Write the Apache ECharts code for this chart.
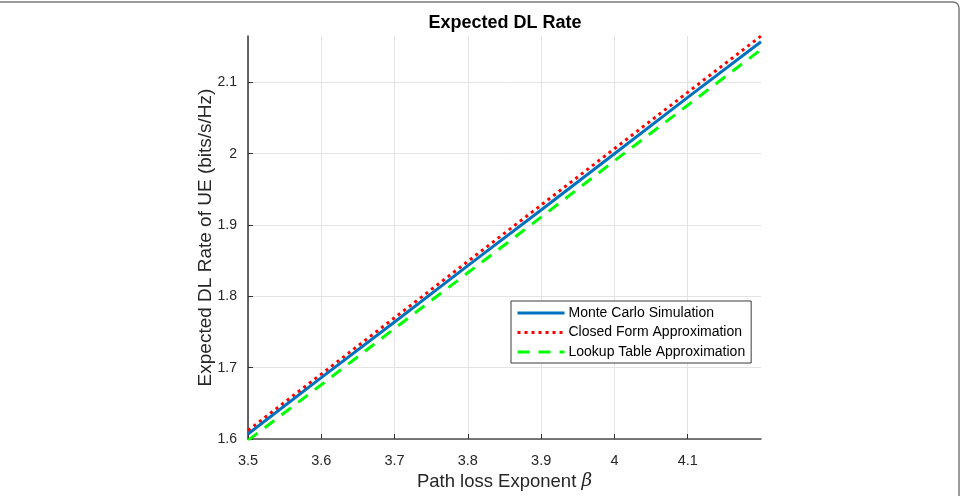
<!DOCTYPE html>
<html>
<head>
<meta charset="utf-8">
<script src="https://cdn.jsdelivr.net/npm/echarts@6/dist/echarts.min.js"></script>
<style>
html,body{margin:0;padding:0;background:#fff;}
#chart{width:962px;height:496px;}
</style>
</head>
<body>
<div id="chart"></div>
<script>
const xValues = [3.5, 3.6, 3.7, 3.8, 3.9, 4.0, 4.1, 4.2];
const monteCarlo = [1.607, 1.686, 1.764, 1.843, 1.921, 2.000, 2.079, 2.157];
const closedForm = [1.612, 1.691, 1.770, 1.849, 1.928, 2.007, 2.086, 2.165];
const lookupTable = [1.598, 1.676, 1.755, 1.833, 1.911, 1.990, 2.068, 2.146];
const seriesNames = ['Monte Carlo Simulation', 'Closed Form Approximation', 'Lookup Table Approximation'];
const xTickValues = [3.5, 3.6, 3.7, 3.8, 3.9, 4.0, 4.1];
const xTickLabels = ['3.5', '3.6', '3.7', '3.8', '3.9', '4', '4.1'];
const yTickValues = [1.6, 1.7, 1.8, 1.9, 2.0, 2.1];
const yTickLabels = ['1.6', '1.7', '1.8', '1.9', '2', '2.1'];

const pairs = (ys) => xValues.map((x, i) => [x, ys[i]]);
const font = 'Liberation Sans, Arial, Helvetica, sans-serif';
const gridColor = '#e3e3e3';
const clear = 'rgba(0,0,0,0)';

function labelFor(values, labels) {
  return (v) => {
    for (let i = 0; i < values.length; i++) {
      if (Math.abs(v - values[i]) < 1e-6) return labels[i];
    }
    return '';
  };
}

const chart = echarts.init(document.getElementById('chart'), null, {renderer: 'canvas'});
chart.setOption({
  animation: false,
  backgroundColor: '#fff',
  title: {
    text: 'Expected DL Rate',
    left: 500, top: 9, textAlign: 'center',
    textStyle: {fontFamily: font, fontSize: 18, fontWeight: 'bold', color: '#000'}
  },
  graphic: [{
    type: 'rect', silent: true,
    shape: {x: -10, y: 2, width: 969, height: 510, r: 6},
    style: {fill: 'none', stroke: '#7a7a7a', lineWidth: 1.5}
  }],
  grid: {left: 248, right: 201, top: 36, bottom: 55, containLabel: false},
  legend: {
    orient: 'vertical',
    left: 511, top: 301,
    itemWidth: 47, itemHeight: 14, itemGap: 5.5,
    padding: [5, 6, 4, 5],
    backgroundColor: '#fff',
    borderColor: '#3a3a3a', borderWidth: 1,
    itemStyle: {opacity: 0, borderWidth: 0},
    lineStyle: {width: 3},
    textStyle: {fontFamily: font, fontSize: 14, color: '#000', padding: [0, 0, 0, -1]},
    data: seriesNames
  },
  xAxis: {
    type: 'value', min: 3.5, max: 4.2, interval: 0.1,
    name: 'Path loss Exponent {b|β}',
    nameLocation: 'middle', nameGap: 33, nameMoveOverlap: false,
    nameTextStyle: {fontFamily: font, fontSize: 18.5, color: '#262626',
      rich: {b: {fontFamily: 'DejaVu Serif, serif', fontStyle: 'italic', fontSize: 18.5, color: '#262626'}}},
    axisLine: {show: true, onZero: false, lineStyle: {color: '#4d4d4d', width: 1.5}},
    axisTick: {show: true, inside: true, length: 5, customValues: xTickValues, lineStyle: {color: '#333'}},
    axisLabel: {
      fontFamily: font, fontSize: 14.5, color: '#262626', margin: 14,
      customValues: xTickValues,
      formatter: labelFor(xTickValues, xTickLabels)
    },
    splitLine: {show: true, lineStyle: {color: [gridColor, gridColor, gridColor, gridColor, gridColor, gridColor, gridColor, clear], width: 1}}
  },
  yAxis: {
    type: 'value', min: 1.6, max: 2.165, interval: 0.1,
    name: 'Expected DL Rate of UE (bits/s/Hz)',
    nameLocation: 'middle', nameGap: 33, nameMoveOverlap: false,
    nameTextStyle: {fontFamily: font, fontSize: 19, color: '#262626'},
    axisLine: {show: true, onZero: false, lineStyle: {color: '#333', width: 1.5}},
    axisTick: {show: true, inside: true, length: 5, customValues: yTickValues, lineStyle: {color: '#333'}},
    axisLabel: {
      fontFamily: font, fontSize: 14, color: '#262626', margin: 11,
      customValues: yTickValues,
      formatter: labelFor(yTickValues, yTickLabels)
    },
    splitLine: {show: true, lineStyle: {color: [gridColor, gridColor, gridColor, gridColor, gridColor, gridColor, clear], width: 1}}
  },
  series: [
    {
      name: seriesNames[0], type: 'line', data: pairs(monteCarlo),
      symbol: 'none', clip: true, z: 3,
      lineStyle: {color: '#0072BD', width: 3, type: 'solid'},
      itemStyle: {color: '#0072BD'}
    },
    {
      name: seriesNames[1], type: 'line', data: pairs(closedForm),
      symbol: 'none', clip: true, z: 2,
      lineStyle: {color: '#FF0000', width: 3, type: [3, 4], cap: 'butt'},
      itemStyle: {color: '#FF0000'}
    },
    {
      name: seriesNames[2], type: 'line', data: pairs(lookupTable),
      symbol: 'none', clip: true, z: 2,
      lineStyle: {color: '#00FF00', width: 3, type: [12, 9]},
      itemStyle: {color: '#00FF00'}
    }
  ]
});
</script>
</body>
</html>
